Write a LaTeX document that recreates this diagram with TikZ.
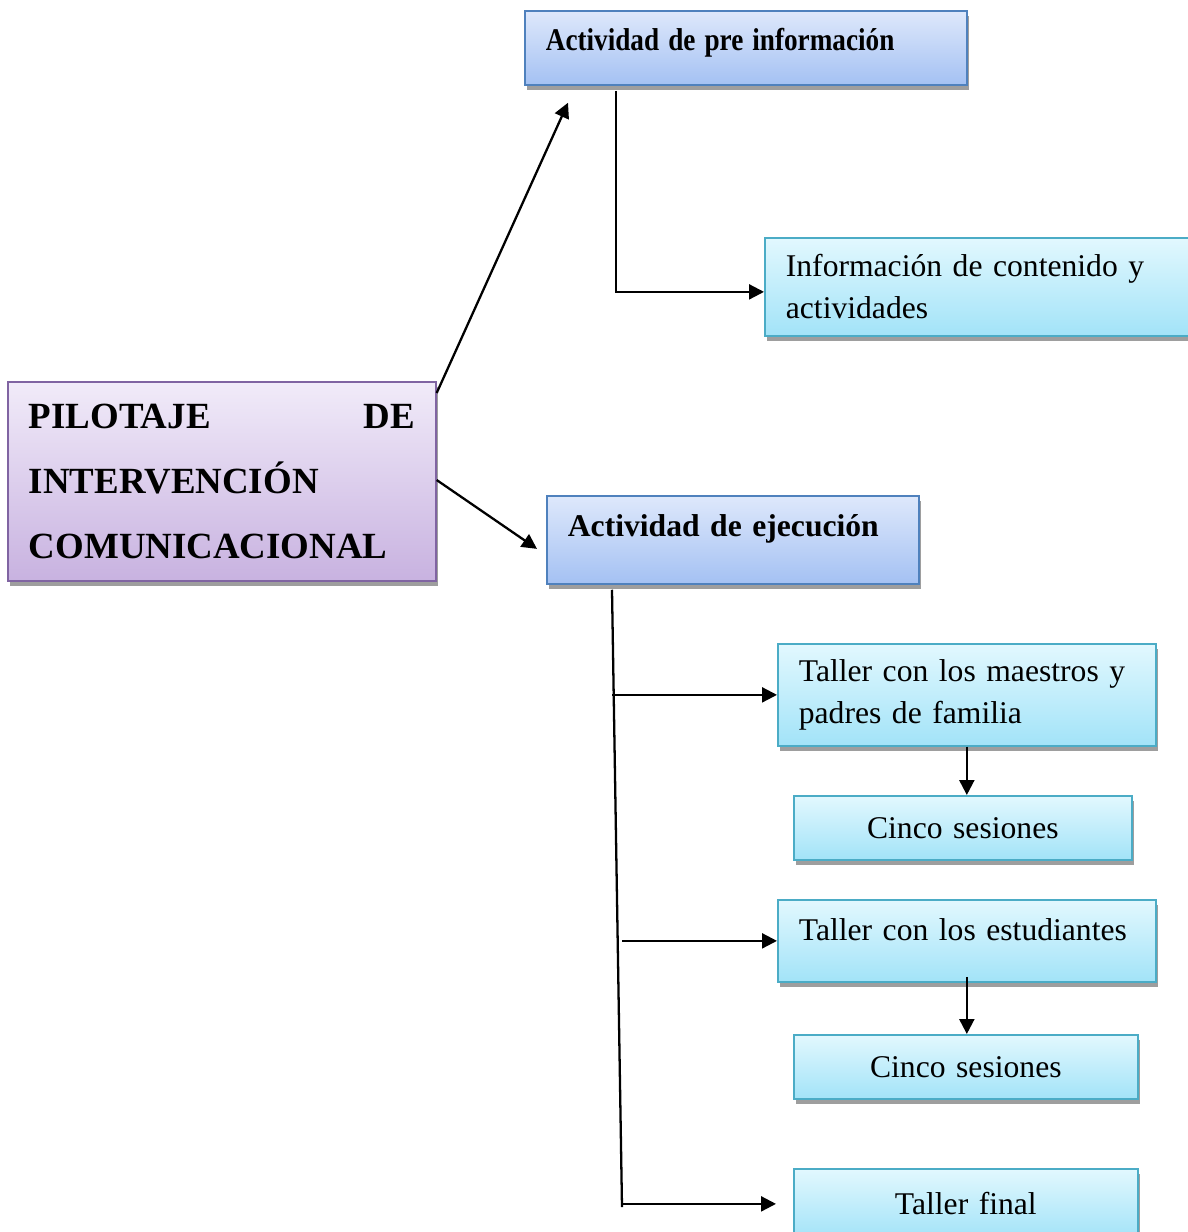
\documentclass[tikz,border=0pt]{standalone}
\usepackage{fontspec}
\setmainfont{Liberation Serif}
\usepackage{xcolor}
\usepackage{tikz}
\usetikzlibrary{arrows.meta, positioning, calc, shadows}

\definecolor{lilaTop}{HTML}{F1EBF9}
\definecolor{lilaBot}{HTML}{C8B2E0}
\definecolor{lilaLine}{HTML}{8064A2}
\definecolor{azulTop}{HTML}{DEE8FB}
\definecolor{azulBot}{HTML}{A4C1F3}
\definecolor{azulLine}{HTML}{4F81BD}
\definecolor{cianTop}{HTML}{E2F8FE}
\definecolor{cianBot}{HTML}{A2E3F8}
\definecolor{cianLine}{HTML}{4BACC6}

\begin{document}
\begin{tikzpicture}[
    x=0.02cm, y=-0.02cm,
    box/.style={rectangle, anchor=north west, line width=1pt, inner xsep=0.42cm, inner ysep=0pt, align=left, font=\fontsize{18}{24}\selectfont, drop shadow={shadow xshift=0.04cm, shadow yshift=-0.1cm, fill=black!38, opacity=1}},
    lila/.style={box, draw=lilaLine, top color=lilaTop, bottom color=lilaBot},
    azul/.style={box, draw=azulLine, top color=azulTop, bottom color=azulBot},
    cian/.style={box, draw=cianLine, top color=cianTop, bottom color=cianBot},
    arrow/.style={-{Triangle[length=0.3cm, width=0.3cm]}, line width=1.3pt}
]

\useasboundingbox (0,0) rectangle (1188,1232);

\node[lila, minimum width=8.56cm, minimum height=3.98cm, text width=7.72cm, font=\fontsize{21}{37}\selectfont\bfseries] (piloto) at (7,381) {PILOTAJE \hfill DE\\INTERVENCIÓN\\COMUNICACIONAL};
\node[azul, minimum width=8.84cm, minimum height=1.48cm, text width=8.0cm, font=\fontsize{18}{24}\selectfont\bfseries, text depth=0.34cm] (pre) at (524,10) {\scalebox{0.86}[1]{Actividad de pre información}};
\node[cian, minimum width=8.6cm, minimum height=1.96cm, text width=7.76cm] (info) at (764,237) {Información de contenido y\\actividades};
\node[azul, minimum width=7.44cm, minimum height=1.76cm, text width=6.6cm, font=\fontsize{18}{24}\selectfont\bfseries, text depth=0.58cm] (ejec) at (546,495) {Actividad de ejecución};
\node[cian, minimum height=2.04cm, text width=6.72cm] (taller1) at (777,643) {Taller con los maestros y\\padres de familia};
\node[cian, minimum height=1.28cm, text width=5.92cm, align=center] (cinco1) at (793,795) {Cinco sesiones};
\node[cian, minimum height=1.64cm, text width=6.72cm, text depth=0.44cm] (taller2) at (777,899) {Taller con los estudiantes};
\node[cian, minimum height=1.28cm, text width=6.04cm, align=center] (cinco2) at (793,1034) {Cinco sesiones};
\node[cian, minimum height=1.4cm, text width=6.04cm, align=center] (final) at (793,1168) {Taller final};

\coordinate (troncoA) at ($(ejec.south west)+(66,5)$);
\coordinate (troncoB) at (622,1207);

\draw[arrow] ($(piloto.north east)+(0,12)$) -- ($(pre.south west)+(44,17)$);
\draw[arrow] ($(piloto.north east)+(0,99)$) -- ($(ejec.west)+(-9,9)$);
\draw[arrow] ($(pre.south west)+(92,5)$) |- ($(info.west)+(0,5)$);
\draw[line width=1.3pt] (troncoA) -- (troncoB);
\draw[arrow] (taller1.west -| troncoA) -- (taller1.west);
\draw[arrow] (taller2.west -| troncoB) -- (taller2.west);
\draw[arrow] (final.west -| troncoB) -- ($(final.west)+(-17,0)$);
\draw[arrow] (taller1.south) -- (taller1.south |- cinco1.north);
\draw[arrow] ($(taller2.south)+(0,-6)$) -- (taller2.south |- cinco2.north);

\end{tikzpicture}
\end{document}
